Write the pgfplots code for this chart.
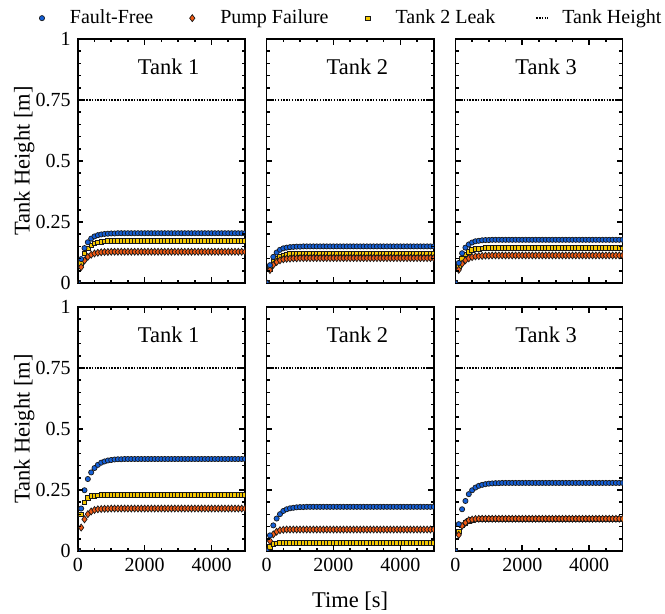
\documentclass[border=0pt]{standalone}
\usepackage{pgfplots}
\usepackage{pgfplotstable}
\pgfplotsset{compat=1.18}
\usepackage{fontspec}
\setmainfont{Liberation Serif}
\definecolor{cBlue}{RGB}{20,95,215}
\definecolor{cOrange}{RGB}{240,90,20}
\definecolor{cYellow}{RGB}{245,200,0}

\pgfplotstableread{
t ff pf lk
0 0 0 0
100 0.098 0.065 0.083
200 0.143 0.092 0.121
300 0.167 0.107 0.142
400 0.182 0.116 0.154
500 0.191 0.121 0.162
600 0.196 0.124 0.166
700 0.199 0.126 0.169
800 0.201 0.127 0.171
900 0.202 0.127 0.172
1000 0.203 0.128 0.172
1100 0.203 0.128 0.173
1200 0.204 0.128 0.173
1300 0.204 0.128 0.173
1400 0.204 0.128 0.173
1500 0.204 0.128 0.173
1600 0.204 0.128 0.173
1700 0.204 0.128 0.173
1800 0.204 0.128 0.173
1900 0.204 0.128 0.173
2000 0.204 0.128 0.173
2100 0.204 0.128 0.173
2200 0.204 0.128 0.173
2300 0.204 0.128 0.173
2400 0.204 0.128 0.173
2500 0.204 0.128 0.173
2600 0.204 0.128 0.173
2700 0.204 0.128 0.173
2800 0.204 0.128 0.173
2900 0.204 0.128 0.173
3000 0.204 0.128 0.173
3100 0.204 0.128 0.173
3200 0.204 0.128 0.173
3300 0.204 0.128 0.173
3400 0.204 0.128 0.173
3500 0.204 0.128 0.173
3600 0.204 0.128 0.173
3700 0.204 0.128 0.173
3800 0.204 0.128 0.173
3900 0.204 0.128 0.173
4000 0.204 0.128 0.173
4100 0.204 0.128 0.173
4200 0.204 0.128 0.173
4300 0.204 0.128 0.173
4400 0.204 0.128 0.173
4500 0.204 0.128 0.173
4600 0.204 0.128 0.173
4700 0.204 0.128 0.173
4800 0.204 0.128 0.173
4900 0.204 0.128 0.173
5000 0.204 0.128 0.173
}\tNa

\pgfplotstableread{
t ff pf lk
0 0 0 0
100 0.073 0.053 0.059
200 0.107 0.074 0.086
300 0.125 0.086 0.100
400 0.136 0.093 0.109
500 0.142 0.097 0.114
600 0.145 0.099 0.117
700 0.147 0.100 0.119
800 0.148 0.101 0.120
900 0.149 0.101 0.120
1000 0.149 0.102 0.121
1100 0.150 0.102 0.121
1200 0.150 0.102 0.121
1300 0.150 0.102 0.121
1400 0.150 0.102 0.121
1500 0.150 0.102 0.121
1600 0.150 0.102 0.121
1700 0.150 0.102 0.121
1800 0.150 0.102 0.121
1900 0.150 0.102 0.121
2000 0.150 0.102 0.121
2100 0.150 0.102 0.121
2200 0.150 0.102 0.121
2300 0.150 0.102 0.121
2400 0.150 0.102 0.121
2500 0.150 0.102 0.121
2600 0.150 0.102 0.121
2700 0.150 0.102 0.121
2800 0.150 0.102 0.121
2900 0.150 0.102 0.121
3000 0.150 0.102 0.121
3100 0.150 0.102 0.121
3200 0.150 0.102 0.121
3300 0.150 0.102 0.121
3400 0.150 0.102 0.121
3500 0.150 0.102 0.121
3600 0.150 0.102 0.121
3700 0.150 0.102 0.121
3800 0.150 0.102 0.121
3900 0.150 0.102 0.121
4000 0.150 0.102 0.121
4100 0.150 0.102 0.121
4200 0.150 0.102 0.121
4300 0.150 0.102 0.121
4400 0.150 0.102 0.121
4500 0.150 0.102 0.121
4600 0.150 0.102 0.121
4700 0.150 0.102 0.121
4800 0.150 0.102 0.121
4900 0.150 0.102 0.121
5000 0.150 0.102 0.121
}\tNb

\pgfplotstableread{
t ff pf lk
0 0 0 0
100 0.082 0.054 0.068
200 0.122 0.079 0.100
300 0.145 0.093 0.118
400 0.158 0.101 0.128
500 0.166 0.106 0.135
600 0.171 0.109 0.139
700 0.173 0.110 0.141
800 0.175 0.111 0.142
900 0.176 0.112 0.143
1000 0.176 0.112 0.143
1100 0.177 0.113 0.144
1200 0.177 0.113 0.144
1300 0.177 0.113 0.144
1400 0.177 0.113 0.144
1500 0.177 0.113 0.144
1600 0.177 0.113 0.144
1700 0.177 0.113 0.144
1800 0.177 0.113 0.144
1900 0.177 0.113 0.144
2000 0.177 0.113 0.144
2100 0.177 0.113 0.144
2200 0.177 0.113 0.144
2300 0.177 0.113 0.144
2400 0.177 0.113 0.144
2500 0.177 0.113 0.144
2600 0.177 0.113 0.144
2700 0.177 0.113 0.144
2800 0.177 0.113 0.144
2900 0.177 0.113 0.144
3000 0.177 0.113 0.144
3100 0.177 0.113 0.144
3200 0.177 0.113 0.144
3300 0.177 0.113 0.144
3400 0.177 0.113 0.144
3500 0.177 0.113 0.144
3600 0.177 0.113 0.144
3700 0.177 0.113 0.144
3800 0.177 0.113 0.144
3900 0.177 0.113 0.144
4000 0.177 0.113 0.144
4100 0.177 0.113 0.144
4200 0.177 0.113 0.144
4300 0.177 0.113 0.144
4400 0.177 0.113 0.144
4500 0.177 0.113 0.144
4600 0.177 0.113 0.144
4700 0.177 0.113 0.144
4800 0.177 0.113 0.144
4900 0.177 0.113 0.144
5000 0.177 0.113 0.144
}\tNc

\pgfplotstableread{
t ff pf lk
0 0 0 0
100 0.174 0.096 0.151
200 0.249 0.130 0.199
300 0.295 0.151 0.219
400 0.322 0.162 0.225
500 0.340 0.168 0.227
600 0.353 0.171 0.228
700 0.362 0.172 0.229
800 0.367 0.173 0.229
900 0.371 0.173 0.229
1000 0.373 0.174 0.229
1100 0.375 0.174 0.229
1200 0.376 0.174 0.229
1300 0.376 0.174 0.229
1400 0.377 0.174 0.229
1500 0.377 0.174 0.229
1600 0.377 0.174 0.229
1700 0.377 0.174 0.229
1800 0.377 0.174 0.229
1900 0.377 0.174 0.229
2000 0.377 0.174 0.229
2100 0.377 0.174 0.229
2200 0.377 0.174 0.229
2300 0.377 0.174 0.229
2400 0.377 0.174 0.229
2500 0.377 0.174 0.229
2600 0.377 0.174 0.229
2700 0.377 0.174 0.229
2800 0.377 0.174 0.229
2900 0.377 0.174 0.229
3000 0.377 0.174 0.229
3100 0.377 0.174 0.229
3200 0.377 0.174 0.229
3300 0.377 0.174 0.229
3400 0.377 0.174 0.229
3500 0.377 0.174 0.229
3600 0.377 0.174 0.229
3700 0.377 0.174 0.229
3800 0.377 0.174 0.229
3900 0.377 0.174 0.229
4000 0.377 0.174 0.229
4100 0.377 0.174 0.229
4200 0.377 0.174 0.229
4300 0.377 0.174 0.229
4400 0.377 0.174 0.229
4500 0.377 0.174 0.229
4600 0.377 0.174 0.229
4700 0.377 0.174 0.229
4800 0.377 0.174 0.229
4900 0.377 0.174 0.229
5000 0.377 0.174 0.229
}\tOa

\pgfplotstableread{
t ff pf lk
0 0 0 0
100 0.064 0.041 0.016
200 0.105 0.068 0.029
300 0.133 0.079 0.032
400 0.151 0.085 0.033
500 0.164 0.087 0.033
600 0.171 0.088 0.033
700 0.175 0.088 0.033
800 0.177 0.088 0.033
900 0.179 0.088 0.033
1000 0.180 0.088 0.033
1100 0.180 0.088 0.033
1200 0.181 0.088 0.033
1300 0.181 0.088 0.033
1400 0.181 0.088 0.033
1500 0.181 0.088 0.033
1600 0.181 0.088 0.033
1700 0.181 0.088 0.033
1800 0.181 0.088 0.033
1900 0.181 0.088 0.033
2000 0.181 0.088 0.033
2100 0.181 0.088 0.033
2200 0.181 0.088 0.033
2300 0.181 0.088 0.033
2400 0.181 0.088 0.033
2500 0.181 0.088 0.033
2600 0.181 0.088 0.033
2700 0.181 0.088 0.033
2800 0.181 0.088 0.033
2900 0.181 0.088 0.033
3000 0.181 0.088 0.033
3100 0.181 0.088 0.033
3200 0.181 0.088 0.033
3300 0.181 0.088 0.033
3400 0.181 0.088 0.033
3500 0.181 0.088 0.033
3600 0.181 0.088 0.033
3700 0.181 0.088 0.033
3800 0.181 0.088 0.033
3900 0.181 0.088 0.033
4000 0.181 0.088 0.033
4100 0.181 0.088 0.033
4200 0.181 0.088 0.033
4300 0.181 0.088 0.033
4400 0.181 0.088 0.033
4500 0.181 0.088 0.033
4600 0.181 0.088 0.033
4700 0.181 0.088 0.033
4800 0.181 0.088 0.033
4900 0.181 0.088 0.033
5000 0.181 0.088 0.033
}\tOb

\pgfplotstableread{
t ff pf lk
0 0 0 0
100 0.110 0.066 0.080
200 0.171 0.103 0.105
300 0.205 0.116 0.116
400 0.233 0.126 0.123
500 0.249 0.129 0.127
600 0.260 0.131 0.129
700 0.267 0.132 0.130
800 0.271 0.132 0.131
900 0.274 0.132 0.131
1000 0.276 0.132 0.131
1100 0.277 0.132 0.131
1200 0.278 0.132 0.131
1300 0.278 0.132 0.131
1400 0.279 0.132 0.131
1500 0.279 0.132 0.131
1600 0.279 0.132 0.131
1700 0.279 0.132 0.131
1800 0.279 0.132 0.131
1900 0.279 0.132 0.131
2000 0.279 0.132 0.131
2100 0.279 0.132 0.131
2200 0.279 0.132 0.131
2300 0.279 0.132 0.131
2400 0.279 0.132 0.131
2500 0.279 0.132 0.131
2600 0.279 0.132 0.131
2700 0.279 0.132 0.131
2800 0.279 0.132 0.131
2900 0.279 0.132 0.131
3000 0.279 0.132 0.131
3100 0.279 0.132 0.131
3200 0.279 0.132 0.131
3300 0.279 0.132 0.131
3400 0.279 0.132 0.131
3500 0.279 0.132 0.131
3600 0.279 0.132 0.131
3700 0.279 0.132 0.131
3800 0.279 0.132 0.131
3900 0.279 0.132 0.131
4000 0.279 0.132 0.131
4100 0.279 0.132 0.131
4200 0.279 0.132 0.131
4300 0.279 0.132 0.131
4400 0.279 0.132 0.131
4500 0.279 0.132 0.131
4600 0.279 0.132 0.131
4700 0.279 0.132 0.131
4800 0.279 0.132 0.131
4900 0.279 0.132 0.131
5000 0.279 0.132 0.131
}\tOc

\tikzset{
  sTH/.style={black, line width=1.05pt, dash pattern=on 0.75pt off 0.65pt},
  sFF/.style={only marks, mark=*, mark size=1.3pt, draw=black!90, fill=cBlue, line width=0.35pt},
  sPF/.style={only marks, mark=diamond*, mark size=1.75pt, draw=black!90, fill=cOrange, line width=0.35pt},
  sLK/.style={only marks, mark=square*, mark size=1.15pt, draw=black!90, fill=cYellow, line width=0.35pt},
  tk/.style={draw=black, line width=0.8pt, line cap=butt},
}
\pgfplotsset{
  panel/.style={
    scale only axis, width=83.6pt, height=122pt,
    anchor=north west,
    xmin=0, xmax=5000, ymin=0, ymax=1,
    xtick={0,2000,4000}, ytick={0,0.25,0.5,0.75,1},
    tick align=inside, xtick pos=both, ytick pos=both,
    major tick length=2.8pt,
    tick style={draw=black, line width=0.8pt},
    axis line style={line width=0.75pt},
    clip marker paths=true,
    xticklabel=\empty, yticklabel=\empty,
    scaled x ticks=false, scaled y ticks=false,
    /pgf/number format/assume math mode=true,
    /pgf/number format/1000 sep={},
    tick label style={font=\fontsize{10}{12}\selectfont},
    legend image code/.code={%
      \path[draw=none, fill=none] (0pt,0pt) -- (20pt,0pt);
      \draw[#1, only marks] plot coordinates {(8pt,0pt)};},
  },
  lefty/.style={yticklabels={0,0.25,0.5,0.75,1},
    ylabel={Tank Height [m]},
    ylabel style={at={(axis description cs:-0.32,0.5)}, anchor=center, font=\fontsize{11.25}{13}\selectfont}},
  botx/.style={xticklabels={0,2000,4000}},
}
\newcommand{\ttl}[1]{\node[font=\fontsize{11.25}{13}\selectfont] at (rel axis cs:0.543,0.885) {#1};}
\newcommand{\myticks}{%
  \pgfplotsinvokeforeach{0,2000,4000}{%
    \draw[tk] (axis cs:##1,0) -- ++(0pt,2.8pt);
    \draw[tk] (axis cs:##1,1) -- ++(0pt,-2.8pt);}
  \pgfplotsinvokeforeach{500,1000,1500,2500,3000,3500,4500}{%
    \draw[tk] (axis cs:##1,0) -- ++(0pt,1.6pt);
    \draw[tk] (axis cs:##1,1) -- ++(0pt,-1.6pt);}
  \pgfplotsinvokeforeach{0.25,0.5,0.75}{%
    \draw[tk] (axis cs:0,##1) -- ++(2.8pt,0pt);
    \draw[tk] (axis cs:5000,##1) -- ++(-2.8pt,0pt);}
  \pgfplotsinvokeforeach{0.05,0.1,0.15,0.2,0.3,0.35,0.4,0.45,0.55,0.6,0.65,0.7,0.8,0.85,0.9,0.95}{%
    \draw[tk] (axis cs:0,##1) -- ++(1.6pt,0pt);
    \draw[tk] (axis cs:5000,##1) -- ++(-1.6pt,0pt);}
}
\newcommand{\series}[1]{%
  \addplot[sTH, forget plot] coordinates {(0,0.75) (5000,0.75)};
  \addplot[sLK, forget plot] table[x=t, y=lk] {#1};
  \addplot[sPF, forget plot] table[x=t, y=pf] {#1};
  \addplot[sFF, forget plot] table[x=t, y=ff] {#1};
  \myticks
}

\begin{document}
\begin{tikzpicture}
% ---- top row (Nominal)
\begin{axis}[panel, lefty, at={(38.9pt,-19.5pt)}]
\series{\tNa}
\ttl{Tank 1}
\end{axis}
\begin{axis}[panel, at={(133.3pt,-19.5pt)},
  legend columns=4,
  legend style={at={(0.5,1)}, anchor=south, yshift=2pt, xshift=-2.25pt, draw=none, fill=none,
    font=\fontsize{10}{12}\selectfont,
    /tikz/every even column/.append style={column sep=9.5pt}},
  ]
\addlegendimage{sFF}
\addlegendentry{Fault-Free}
\addlegendimage{sPF}
\addlegendentry{Pump Failure}
\addlegendimage{sLK}
\addlegendentry{Tank 2 Leak}
\addlegendimage{sTH, legend image code/.code={\path[draw=none] (0pt,0pt) -- (20pt,0pt); \draw[sTH] (9pt,0pt) -- (15pt,0pt);}}
\addlegendentry{Tank Height}
\series{\tNb}
\ttl{Tank 2}
\end{axis}
\begin{axis}[panel, at={(227.7pt,-19.5pt)}]
\series{\tNc}
\ttl{Tank 3}
\node[font=\fontsize{11.25}{13}\selectfont, rotate=90, anchor=center] at (rel axis cs:1.155,0.5) {Nominal};
\end{axis}
% ---- bottom row (Optimal)
\begin{axis}[panel, lefty, botx, at={(38.9pt,-153.5pt)}]
\series{\tOa}
\ttl{Tank 1}
\end{axis}
\begin{axis}[panel, botx, at={(133.3pt,-153.5pt)},
  xlabel={Time [s]},
  xlabel style={at={(axis description cs:0.5,-0.205)}, anchor=center, font=\fontsize{11.25}{13}\selectfont}]
\series{\tOb}
\ttl{Tank 2}
\end{axis}
\begin{axis}[panel, botx, at={(227.7pt,-153.5pt)}]
\series{\tOc}
\ttl{Tank 3}
\node[font=\fontsize{11.25}{13}\selectfont, rotate=90, anchor=center] at (rel axis cs:1.155,0.5) {Optimal};
\end{axis}
\pgfresetboundingbox
\useasboundingbox (0pt,0pt) rectangle (332.5pt,-307pt);
\end{tikzpicture}
\end{document}
